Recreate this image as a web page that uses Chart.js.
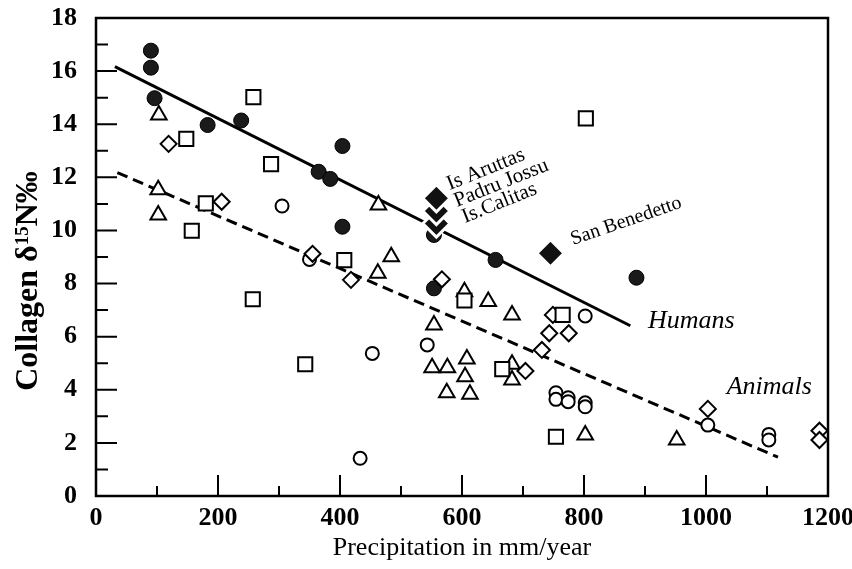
<!DOCTYPE html>
<html>
<head>
<meta charset="utf-8">
<script src="https://cdn.jsdelivr.net/npm/chart.js@4"></script>
<style>
  html, body { margin: 0; padding: 0; background: #fff; }
  #wrap { width: 852px; height: 569px; }
</style>
</head>
<body>
<div id="wrap"><canvas id="chart" width="852" height="569"></canvas></div>
<script>
// human bone collagen (filled circles)
const humanX = [90, 90, 96, 183, 238, 365, 384, 404, 404, 554, 554, 655, 886];
const humanY = [16.77, 16.13, 14.98, 13.97, 14.14, 12.21, 11.94, 13.18, 10.14, 9.83, 7.82, 8.89, 8.22];

// animal groups (open markers)
const squareX = [258, 148, 287, 180, 157, 407, 257, 343, 803, 604, 666, 765, 754];
const squareY = [15.02, 13.45, 12.5, 11.02, 9.99, 8.88, 7.41, 4.96, 14.22, 7.36, 4.78, 6.82, 2.23];

const circleX = [305, 350, 453, 543, 802, 754, 754, 774, 774, 802, 802, 433, 1003, 1103, 1103];
const circleY = [10.92, 8.91, 5.37, 5.69, 6.78, 3.89, 3.64, 3.7, 3.55, 3.51, 3.36, 1.42, 2.67, 2.32, 2.11];

const diamondX = [119, 206, 355, 418, 567, 749, 743, 775, 731, 704, 1003, 1186, 1186];
const diamondY = [13.26, 11.08, 9.12, 8.14, 8.16, 6.82, 6.13, 6.13, 5.5, 4.71, 3.28, 2.46, 2.11];

const triangleX = [103, 102, 102, 463, 484, 462, 604, 643, 682, 554, 551, 576, 608, 605, 575, 613, 682, 682, 802, 952];
const triangleY = [14.35, 11.53, 10.58, 10.96, 9.01, 8.39, 7.69, 7.32, 6.82, 6.44, 4.83, 4.83, 5.16, 4.49, 3.89, 3.83, 4.96, 4.37, 2.3, 2.11];

// Sardinian sites (big filled diamonds)
const siteNames = ['Is.Calitas', 'Padru Jossu', 'Is Aruttas', 'San Benedetto'];
const siteX = [558, 558, 558, 745];
const siteY = [10.26, 10.73, 11.21, 9.14];

// regression lines
const humanFitX = [31, 876];
const humanFitY = [16.17, 6.41];
const animalFitX = [35, 1118];
const animalFitY = [12.18, 1.46];

const xTicks = [0, 200, 400, 600, 800, 1000, 1200];
const yTicks = [0, 2, 4, 6, 8, 10, 12, 14, 16, 18];

const SERIF = '"Liberation Serif", "Times New Roman", serif';

function pts(xs, ys) {
    return xs.map((x, i) => ({ x: x, y: ys[i] }));
}

function markers(xs, ys, style, radius, fill, order) {
    return {
        data: pts(xs, ys),
        pointStyle: style,
        pointRadius: radius,
        pointBackgroundColor: fill,
        pointBorderColor: '#000',
        pointBorderWidth: 2,
        showLine: false,
        order: order
    };
}

// text labels placed in data coordinates
const notes = [
    { text: 'Is Aruttas', x: 580, y: 11.52, angle: -22, font: '21px ' + SERIF },
    { text: 'Padru Jossu', x: 592, y: 10.88, angle: -22, font: '21px ' + SERIF },
    { text: 'Is.Calitas', x: 605, y: 10.28, angle: -22, font: '21px ' + SERIF },
    { text: 'San Benedetto', x: 782, y: 9.45, angle: -19, font: '20px ' + SERIF },
    { text: 'Humans', x: 905, y: 6.33, angle: 0, font: 'italic 26px ' + SERIF },
    { text: 'Animals', x: 1034, y: 3.84, angle: 0, font: 'italic 26px ' + SERIF }
];

const framePlugin = {
    id: 'frame',
    afterDatasetsDraw(chart) {
        const { ctx, chartArea: a, scales: { x, y } } = chart;
        ctx.save();
        ctx.strokeStyle = '#000';
        ctx.lineWidth = 2.5;
        ctx.strokeRect(a.left, a.top, a.right - a.left, a.bottom - a.top);
        ctx.lineWidth = 2;
        ctx.beginPath();
        for (let v = 0; v <= 1200; v += 100) {
            const px = x.getPixelForValue(v);
            const len = v % 200 === 0 ? 21 : 10;
            ctx.moveTo(px, a.bottom);
            ctx.lineTo(px, a.bottom - len);
        }
        for (let v = 0; v <= 18; v += 1) {
            const py = y.getPixelForValue(v);
            const len = v % 2 === 0 ? 21 : 12;
            ctx.moveTo(a.left, py);
            ctx.lineTo(a.left + len, py);
        }
        ctx.stroke();

        // annotations
        ctx.fillStyle = '#000';
        ctx.textBaseline = 'alphabetic';
        ctx.textAlign = 'left';
        notes.forEach(n => {
            ctx.save();
            ctx.translate(x.getPixelForValue(n.x), y.getPixelForValue(n.y));
            ctx.rotate(n.angle * Math.PI / 180);
            ctx.font = n.font;
            ctx.fillText(n.text, 0, 0);
            ctx.restore();
        });

        // y axis title with superscript
        const big = 'bold 32px ' + SERIF;
        const small = 'bold 19px ' + SERIF;
        const parts = [['Collagen \u03b4', big, 0], ['15', small, -9], ['N\u2030', big, 0]];
        let total = 0;
        parts.forEach(p => { ctx.font = p[1]; total += ctx.measureText(p[0]).width; });
        ctx.save();
        ctx.translate(37, (a.top + a.bottom) / 2 + 24);
        ctx.rotate(-Math.PI / 2);
        let cx = -total / 2;
        parts.forEach(p => {
            ctx.font = p[1];
            ctx.fillText(p[0], cx, p[2]);
            cx += ctx.measureText(p[0]).width;
        });
        ctx.restore();
        ctx.restore();
    }
};

new Chart(document.getElementById('chart'), {
    type: 'scatter',
    data: {
        datasets: [
            {
                data: pts(siteX, siteY),
                pointStyle: 'rectRot',
                pointRadius: 13.5,
                pointBackgroundColor: '#111',
                pointBorderColor: '#fff',
                pointBorderWidth: 3,
                showLine: false,
                order: 0
            },
            markers(squareX, squareY, 'rect', 10, '#fff', 1),
            markers(diamondX, diamondY, 'rectRot', 8, '#fff', 2),
            markers(triangleX, triangleY, 'triangle', 9, '#fff', 3),
            markers(circleX, circleY, 'circle', 6.5, '#fff', 4),
            {
                data: pts(humanX, humanY),
                pointStyle: 'circle',
                pointRadius: 7.5,
                pointBackgroundColor: '#1a1a1a',
                pointBorderColor: '#000',
                pointBorderWidth: 1,
                showLine: false,
                order: 5
            },
            {
                data: pts(humanFitX, humanFitY),
                showLine: true,
                borderColor: '#000',
                borderWidth: 3,
                pointRadius: 0,
                order: 6
            },
            {
                data: pts(animalFitX, animalFitY),
                showLine: true,
                borderColor: '#000',
                borderWidth: 3,
                borderDash: [11, 6],
                pointRadius: 0,
                order: 7
            }
        ]
    },
    options: {
        responsive: false,
        animation: false,
        layout: { padding: { top: 18, right: 24, left: 0, bottom: 0 } },
        plugins: { legend: { display: false }, tooltip: { enabled: false } },
        scales: {
            x: {
                type: 'linear',
                min: 0,
                max: 1200,
                grid: { display: false, drawTicks: false },
                border: { display: false },
                afterBuildTicks: s => { s.ticks = xTicks.map(v => ({ value: v })); },
                ticks: {
                    maxRotation: 0,
                    padding: 7,
                    color: '#000',
                    callback: v => String(v),
                    font: { family: SERIF, size: 26, weight: 'bold' }
                },
                title: {
                    display: true,
                    text: 'Precipitation in mm/year',
                    color: '#000',
                    padding: { top: 0, bottom: 5 },
                    font: { family: SERIF, size: 26 }
                },
                afterFit: s => { s.height = 73; s.paddingLeft = 0; s.paddingRight = 0; }
            },
            y: {
                type: 'linear',
                min: 0,
                max: 18,
                grid: { display: false, drawTicks: false },
                border: { display: false },
                afterBuildTicks: s => { s.ticks = yTicks.map(v => ({ value: v })); },
                ticks: {
                    padding: 19,
                    color: '#000',
                    callback: v => String(v),
                    font: { family: SERIF, size: 26, weight: 'bold' }
                },
                afterFit: s => { s.width = 96; s.paddingTop = 0; s.paddingBottom = 0; }
            }
        }
    },
    plugins: [framePlugin]
});
</script>
</body>
</html>
